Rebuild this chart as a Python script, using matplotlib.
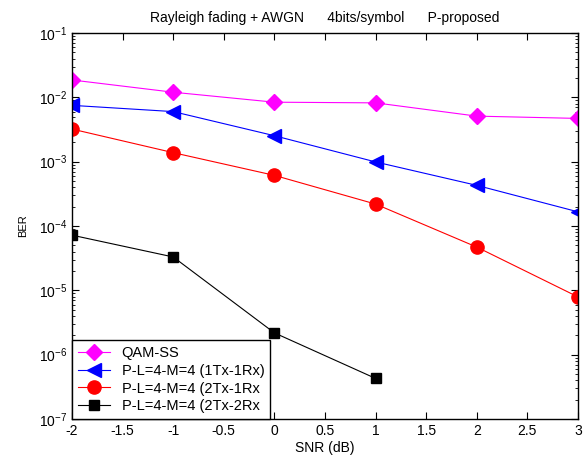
import matplotlib
matplotlib.use("Agg")
import matplotlib.pyplot as plt
from matplotlib.ticker import LogLocator, NullFormatter

plt.rcParams["font.family"] = ["Liberation Sans", "DejaVu Sans"]
plt.rcParams["mathtext.fontset"] = "custom"
plt.rcParams["mathtext.rm"] = "Liberation Sans"

snr = [-2, -1, 0, 1, 2, 3]
snr_2x2 = [-2, -1, 0, 1]

ber_qam_ss = [0.0186, 0.012, 0.0084, 0.0082, 0.0051, 0.0047]
ber_1tx1rx = [0.0075, 0.0060, 0.00253, 0.00099, 0.000428, 0.000166]
ber_2tx1rx = [0.00321, 0.00138, 0.000612, 0.000219, 4.7e-5, 7.9e-6]
ber_2tx2rx = [7.2e-5, 3.3e-5, 2.18e-6, 4.27e-7]

labels = ["QAM-SS", "P-L=4-M=4 (1Tx-1Rx)", "P-L=4-M=4 (2Tx-1Rx", "P-L=4-M=4 (2Tx-2Rx"]

fig = plt.figure(figsize=(5.86, 4.62), dpi=100)
ax = fig.add_axes([0.1229, 0.0931, 0.8634, 0.8355])

ax.semilogy(snr, ber_qam_ss, color="#ff00ff", marker="D", ms=8, lw=0.8, label=labels[0])
ax.semilogy(snr, ber_1tx1rx, color="#0000ff", marker="<", ms=10, lw=0.8, label=labels[1])
ax.semilogy(snr, ber_2tx1rx, color="#ff0000", marker="o", ms=9.5, lw=0.8, label=labels[2])
ax.semilogy(snr_2x2, ber_2tx2rx, color="black", marker="s", ms=7, lw=0.8, label=labels[3])

ax.set_xlim(-2, 3)
ax.set_ylim(1e-7, 1e-1)
ax.set_xticks([-2, -1.5, -1, -0.5, 0, 0.5, 1, 1.5, 2, 2.5, 3])
ax.set_xticklabels(["-2", "-1.5", "-1", "-0.5", "0", "0.5", "1", "1.5", "2", "2.5", "3"])
ax.yaxis.set_major_locator(LogLocator(base=10, numticks=10))
ax.yaxis.set_minor_locator(LogLocator(base=10, subs=range(2, 10), numticks=20))
ax.yaxis.set_minor_formatter(NullFormatter())
ax.tick_params(which="both", direction="in", top=True, right=True, labelsize=10)
ax.tick_params(which="major", length=5)
ax.tick_params(which="minor", length=2.5)
for s in ax.spines.values():
    s.set_linewidth(1.0)

ax.set_xlabel("SNR (dB)", fontsize=10, labelpad=2)
ax.set_ylabel("BER", fontsize=8, labelpad=8)
ax.set_title("Rayleigh fading + AWGN      4bits/symbol      P-proposed", fontsize=10, pad=8)

leg = ax.legend(loc="lower left", fontsize=10.5, borderaxespad=0, fancybox=False,
                edgecolor="black", framealpha=1, handlelength=2.2, borderpad=0.4,
                labelspacing=0.25)
leg.get_frame().set_linewidth(1.0)

fig.savefig("out.png", dpi=100)
